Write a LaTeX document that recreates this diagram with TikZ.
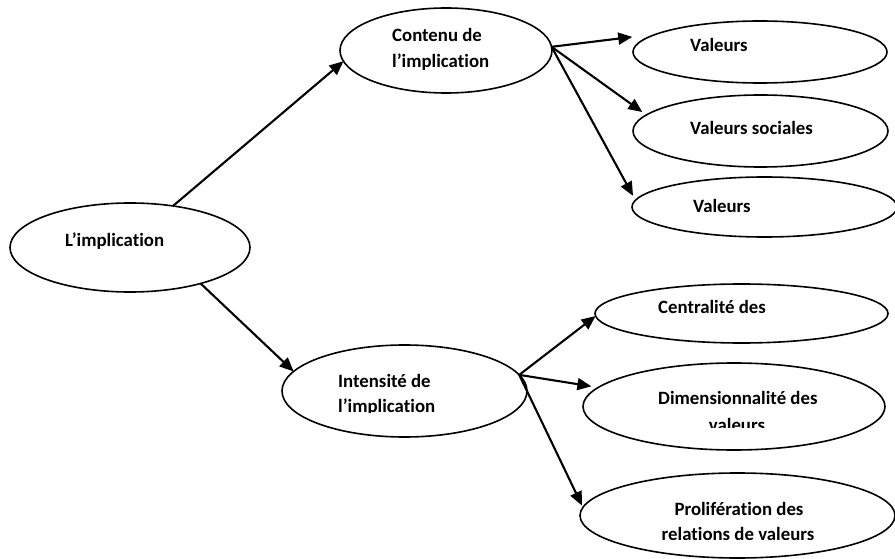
\documentclass[tikz,border=0pt]{standalone}
\usepackage{fontspec}
\setmainfont{Carlito}[Ligatures=NoCommon]
\usetikzlibrary{arrows.meta,shapes.geometric}
\begin{document}
\begin{tikzpicture}[x=1pt,y=-1pt,
  oval/.style={draw,ellipse,line width=1.6pt,inner sep=0pt,outer sep=0pt},
  lbl/.style={anchor=base west,inner sep=0pt,font=\fontsize{18.8}{22}\selectfont\bfseries},
  clbl/.style={anchor=base,inner sep=0pt,font=\fontsize{18.8}{22}\selectfont\bfseries},
  link/.style={line width=2.1pt,-{Triangle[length=14pt,width=12pt]}}]
\useasboundingbox (0,0) rectangle (895,559);
% ellipses
\node[oval,minimum width=240pt,minimum height=89pt] (impl) at (130,247.5) {};
\node[oval,minimum width=212pt,minimum height=85pt] (cont) at (446,50.5) {};
\node[oval,minimum width=254pt,minimum height=62pt] (v1) at (760,52) {};
\node[oval,minimum width=255pt,minimum height=72pt] (v2) at (760.5,131) {};
\node[oval,minimum width=265pt,minimum height=60pt] (v3) at (764.5,207) {};
\node[oval,minimum width=245pt,minimum height=92pt] (inten) at (404.5,391) {};
\node[oval,minimum width=293pt,minimum height=59pt] (cent) at (741.5,313.5) {};
\node[oval,minimum width=302pt,minimum height=87pt] (dim) at (734,406.5) {};
\node[oval,minimum width=315pt,minimum height=85pt] (prol) at (737.5,515.5) {};
% labels
\node[lbl] (timpl) at (65,246) {L’implication};
\node[lbl] (tcont1) at (392,42) {Contenu de};
\node[lbl] (tcont2) at (392,68) {l’implication};
\node[lbl] (tv1) at (690,52) {Valeurs};
\node[lbl] (tv2) at (690,135) {Valeurs sociales};
\node[lbl] (tv3) at (693,213) {Valeurs};
\node[lbl] (tint1) at (338,387) {Intensité de};
\begin{scope}
  \clip (300,390) rectangle (500,412.5);
  \node[lbl] (tint2) at (338,412) {l’implication};
\end{scope}
\node[lbl] (tcent) at (658,313) {Centralité des};
\node[lbl] (tdim1) at (658,404) {Dimensionnalité des};
\begin{scope}
  \clip (640,410) rectangle (860,427);
  \node[clbl] (tdim2) at (737,431) {valeurs};
\end{scope}
\node[clbl] (tprol1) at (739,515) {Prolifération des};
\begin{scope}
  \clip (620,520) rectangle (860,539);
  \node[clbl] (tprol2) at (738,540) {relations de valeurs};
\end{scope}
% connectors
\draw[link] (impl.44) -- (cont.186);
\draw[link] (impl.-27) -- (inten.170);
\draw[link,shorten >=25pt] (cont.2) -- (v1.170);
\draw[link,shorten >=5pt] (cont.2) -- (v2.172);
\draw[link,shorten >=5pt] (cont.2) -- (v3.177);
\draw[link] (inten.8) -- (cent.181);
\draw[link,shorten >=7pt] (inten.8) -- (dim.172);
\draw[link,shorten >=2pt] (inten.8) -- (prol.177);
\end{tikzpicture}
\end{document}
